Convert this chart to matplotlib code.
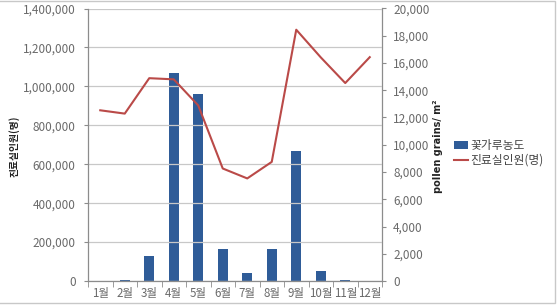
import matplotlib
matplotlib.use("Agg")
import matplotlib.pyplot as plt
from matplotlib.patches import Rectangle
import numpy as np

plt.rcParams['font.family'] = ['Noto Sans CJK KR', 'DejaVu Sans']

months = ['1월', '2월', '3월', '4월', '5월', '6월', '7월', '8월', '9월', '10월', '11월', '12월']
pollen = [0, 100, 1850, 15300, 13750, 2320, 565, 2320, 9520, 755, 40, 0]
patients = [877000, 860000, 1042000, 1036000, 902000, 578000, 527000, 612000,
            1291000, 1149000, 1017000, 1150000]
left_ticks = [0, 200000, 400000, 600000, 800000, 1000000, 1200000, 1400000]
right_ticks = [0, 2000, 4000, 6000, 8000, 10000, 12000, 14000, 16000, 18000, 20000]

bar_color = '#2F5C98'
line_color = '#BA4A48'
tick_color = '#6A6A6A'
spine_color = '#8C8C8C'

fig = plt.figure(figsize=(5.59, 3.07), dpi=100)
ax = fig.add_axes([88/559, 1-281/307, (382-88)/559, (281-8.5)/307])
ax2 = ax.twinx()
# bars behind line
ax.set_zorder(ax2.get_zorder() + 1)
ax.patch.set_visible(False)

x = np.arange(len(months))
ax2.bar(x, pollen, width=0.4, color=bar_color, zorder=2, label='꽃가루농도')
ax.plot(x, patients, color=line_color, lw=1.5, zorder=3, label='진료실인원(명)')

ax.set_xlim(-0.5, len(months) - 0.5)
ax.set_ylim(0, 1400000)
ax2.set_ylim(0, 20000)
ax.set_yticks(left_ticks)
ax.set_yticklabels([f'{v:,}' for v in left_ticks])
ax2.set_yticks(right_ticks)
ax2.set_yticklabels([f'{v:,}' for v in right_ticks])

ax.set_xticks(x)
ax.set_xticklabels(months)
ax.set_xticks(np.arange(-0.5, len(months) + 0.5, 1), minor=True)
ax.tick_params(axis='x', which='major', length=0, labelsize=8.3, colors=tick_color, pad=4)
ax.tick_params(axis='x', which='minor', length=4, color=spine_color, direction='out')

ax.tick_params(axis='y', length=3, color=spine_color, labelsize=8.5, labelcolor=tick_color, pad=6)
ax2.tick_params(axis='y', length=3, color=spine_color, labelsize=8.5, labelcolor=tick_color, pad=5)

ax.yaxis.grid(True, color='#C8C8C8', lw=0.9)
ax.set_axisbelow(True)

for a in (ax, ax2):
    a.spines['top'].set_visible(False)
    for s in ('left', 'right', 'bottom'):
        a.spines[s].set_color(spine_color)
        a.spines[s].set_linewidth(0.9)
ax.spines['right'].set_visible(False)
ax2.spines['left'].set_visible(False)
ax2.spines['bottom'].set_visible(False)

fig.text(14/559, 1-146/307, '진료실인원(명)', rotation=90, ha='center', va='center',
         fontsize=7, fontweight='bold', color='#222222')
fig.text(438/559, 1-146/307, 'pollen grains/ m²', rotation=90, ha='center', va='center',
         fontsize=7, fontweight='bold', color='#222222', family=['DejaVu Sans'])

h1, l1 = ax2.get_legend_handles_labels()
h2, l2 = ax.get_legend_handles_labels()
leg = fig.legend(h1 + h2, l1 + l2, loc='center left', bbox_to_anchor=(454/559, 1-153/307),
                 frameon=False, fontsize=8.5, handlelength=1.2, handletextpad=0.2,
                 labelspacing=0.15, borderaxespad=0, borderpad=0)
for t in leg.get_texts():
    t.set_color('#444444')

fig.patches.append(Rectangle((-2/559, 1-303/307), 557/559, 302/307, transform=fig.transFigure,
                             fill=False, edgecolor='#C8C8C8', lw=1.0))

fig.savefig('out.png', dpi=100)
